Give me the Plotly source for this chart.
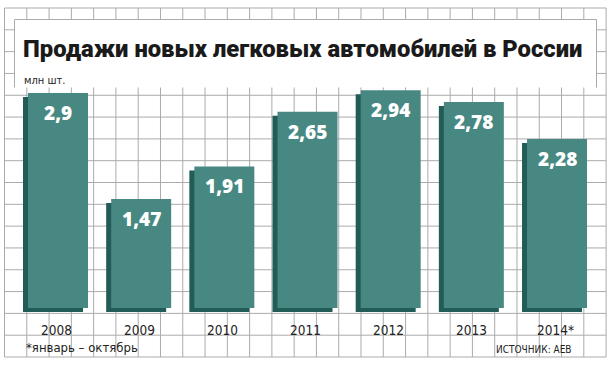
import plotly.graph_objects as go

years = ["2008", "2009", "2010", "2011", "2012", "2013", "2014*"]
sales = [2.9, 1.47, 1.91, 2.65, 2.94, 2.78, 2.28]
labels = ["2,9", "1,47", "1,91", "2,65", "2,94", "2,78", "2,28"]

title = "Продажи новых легковых автомобилей в России"
unit = "млн шт."
footnote = "*январь – октябрь"
source = "ИСТОЧНИК: AEB"

W, H = 615, 367
FRONT = "#478982"
DARK = "#225c57"
GRID = "#ababab"
NARROW = "DejaVu Sans Condensed, Liberation Sans, sans-serif"

# pixel geometry helpers (layout only)
step = 83.17           # px between category centers
c0 = 58.0              # px of first category center
ppu = 74.1             # px per unit (y)
y0px = 308.0           # px of y = 0
barw = 60 / step
dx = 5 / step
dy = 4 / ppu

x_range = [(0 - c0) / step, (W - c0) / step]
y_range = [-(H - y0px) / ppu, y0px / ppu]

fig = go.Figure()
xi = list(range(len(years)))
fig.add_trace(go.Bar(x=xi, y=sales, base=[-dy] * len(sales), offset=-barw / 2 - dx,
                     width=barw, marker=dict(color=DARK, line=dict(width=0)),
                     hoverinfo="skip"))
fig.add_trace(go.Bar(x=xi, y=sales, offset=-barw / 2, width=barw,
                     marker=dict(color=FRONT, line=dict(width=0)),
                     hoverinfo="skip"))

def px(x):
    return x / W

def py(y):
    return 1 - y / H

shapes = []
gx0, gx1, gy0, gy1 = 4.5, 606.1, 8.0, 357.0
ncol, nrow = 27, 16
for k in range(ncol + 1):
    x = gx0 + (gx1 - gx0) * k / ncol
    shapes.append(dict(type="line", xref="paper", yref="paper", x0=px(x), x1=px(x),
                       y0=py(gy0), y1=py(gy1), line=dict(color=GRID, width=1), layer="below"))
for j in range(nrow + 1):
    y = gy0 + (gy1 - gy0) * j / nrow
    shapes.append(dict(type="line", xref="paper", yref="paper", x0=px(gx0), x1=px(gx1),
                       y0=py(y), y1=py(y), line=dict(color=GRID, width=1), layer="below"))
# title box
bx0, bx1, by0, by1 = 14.5, 596.5, 19.5, 87.5
shapes.append(dict(type="rect", xref="paper", yref="paper", x0=px(bx0), x1=px(bx1),
                   y0=py(by0), y1=py(by1), fillcolor="white", line=dict(width=0), layer="below"))
shapes.append(dict(type="path", xref="paper", yref="paper",
                   path=f"M{px(bx0)},{py(by1)} L{px(bx0)},{py(by0)} L{px(bx1)},{py(by0)} L{px(bx1)},{py(by1)}",
                   line=dict(color=GRID, width=1), layer="below"))

ann = []
for i, (v, t) in enumerate(zip(sales, labels)):
    ann.append(dict(x=i, y=v, xref="x", yref="y", text=t, showarrow=False,
                    yanchor="top", yshift=-5,
                    font=dict(family="Open Sans", size=19, color="white", weight=800)))
    ann.append(dict(x=i, y=0, xref="x", yref="y", text=years[i], showarrow=False,
                    yanchor="middle", yshift=-(330 - y0px), xshift=-2,
                    font=dict(family=NARROW, size=13.5, color="#222")))

ann.append(dict(x=px(302), y=py(49), xref="paper", yref="paper", text=title, showarrow=False,
                xanchor="center", yanchor="middle",
                font=dict(family="Roboto", size=23.8, color="#1a1a1a", weight=900)))
ann.append(dict(x=px(22), y=py(80), xref="paper", yref="paper", text=unit, showarrow=False,
                xanchor="left", yanchor="middle",
                font=dict(family=NARROW, size=11, color="#222")))
ann.append(dict(x=px(24), y=py(347), xref="paper", yref="paper", text=footnote, showarrow=False,
                xanchor="left", yanchor="middle",
                font=dict(family=NARROW, size=13, color="#222")))
ann.append(dict(x=px(574), y=py(349), xref="paper", yref="paper", text=source, showarrow=False,
                xanchor="right", yanchor="middle",
                font=dict(family=NARROW, size=10, color="#222")))

fig.update_layout(
    width=W, height=H,
    margin=dict(l=0, r=0, t=0, b=0, autoexpand=False),
    paper_bgcolor="white", plot_bgcolor="rgba(0,0,0,0)",
    barmode="overlay", showlegend=False,
    xaxis=dict(range=x_range, visible=False, fixedrange=True),
    yaxis=dict(range=y_range, visible=False, fixedrange=True),
    shapes=shapes, annotations=ann,
)
fig.write_html("out.html", config={"displayModeBar": False},
               post_script="document.body.style.margin='0';document.body.style.padding='0';")
